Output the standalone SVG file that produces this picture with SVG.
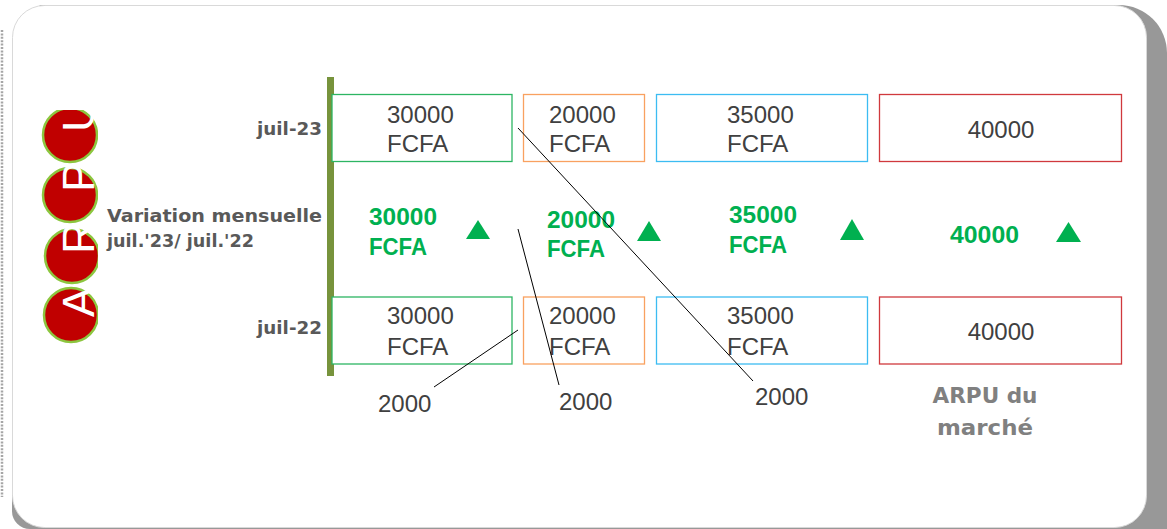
<svg xmlns="http://www.w3.org/2000/svg" width="1167" height="529" viewBox="0 0 1167 529">
<style>
.box{fill:#ffffff;stroke-width:1.3}
.g{stroke:#2db563}
.o{stroke:#f9a160}
.b{stroke:#3cbcf2}
.r{stroke:#d0393d}
.val{font-family:"Liberation Sans",Arial,sans-serif;font-size:24px;fill:#404040}
.var{font-family:"Liberation Sans",Arial,sans-serif;font-size:23px;font-weight:bold;fill:#00b050}
.lab{font-family:"DejaVu Sans","Liberation Sans",sans-serif;font-size:17px;font-weight:bold;fill:#595959}
.mk{font-family:"DejaVu Sans","Liberation Sans",sans-serif;font-size:21px;font-weight:bold;fill:#808080}
.tri{fill:#00b050}
.circ{fill:#c00000;stroke:#8cc63f;stroke-width:2.5}
.let{font-family:"Liberation Sans",Arial,sans-serif;font-weight:normal;font-size:45px;fill:#ffffff}
.conn{stroke:#000000;stroke-width:1;fill:none}
</style>
<defs>
<clipPath id="arpuClip"><rect x="35" y="110" width="63" height="240"/></clipPath>
</defs>

<g id="panel">
<line x1="2" y1="30" x2="2" y2="497" stroke="#a6a6a6" stroke-width="2.5" stroke-dasharray="2 1.4"/>
<path d="M40,5 H1119 A48,48 0 0 1 1167,53 V529 H30 A18,18 0 0 1 12,511 V40 Z" fill="#989898"/>
<rect x="12.5" y="5.5" width="1134" height="522" rx="32" ry="32" fill="#ffffff" stroke="#d9d9d9" stroke-width="1"/>
</g>

<g id="arpu-title" clip-path="url(#arpuClip)">
<g id="letter-U"><circle class="circ" cx="70" cy="135" r="27"/><text class="let" transform="translate(94,132) rotate(-90)">U</text></g>
<g id="letter-P"><circle class="circ" cx="70" cy="195" r="27"/><text class="let" transform="translate(94,192) rotate(-90)">P</text></g>
<g id="letter-R"><circle class="circ" cx="72" cy="256" r="27"/><text class="let" transform="translate(94,254) rotate(-90)">R</text></g>
<g id="letter-A"><circle class="circ" cx="71" cy="315" r="27"/><text class="let" transform="translate(94,317) rotate(-90)">A</text></g>
</g>

<g id="axis">
<rect x="327" y="77" width="7" height="299" fill="#77933c"/>
</g>

<g id="row-labels">
<text class="lab" x="322" y="135" text-anchor="end" textLength="65" lengthAdjust="spacingAndGlyphs">juil-23</text>
<text class="lab" x="322" y="334" text-anchor="end" textLength="65" lengthAdjust="spacingAndGlyphs">juil-22</text>
<text class="lab" x="107" y="222" textLength="215" lengthAdjust="spacingAndGlyphs">Variation mensuelle</text>
<text class="lab" x="107" y="247" textLength="147" lengthAdjust="spacingAndGlyphs">juil.'23/ juil.'22</text>
</g>

<g id="top-1"><rect class="box g" x="332" y="94.5" width="180" height="67"/><text class="val" x="387" y="123">30000</text><text class="val" x="387" y="152">FCFA</text></g>
<g id="top-2"><rect class="box o" x="523.5" y="94.5" width="121" height="67"/><text class="val" x="549" y="123">20000</text><text class="val" x="549" y="152">FCFA</text></g>
<g id="top-3"><rect class="box b" x="656.5" y="94.5" width="211" height="67"/><text class="val" x="727" y="123">35000</text><text class="val" x="727" y="152">FCFA</text></g>
<g id="top-4"><rect class="box r" x="879.5" y="94.5" width="242" height="67"/><text class="val" x="1001" y="138" text-anchor="middle">40000</text></g>

<g id="var-1"><text class="var" x="369" y="225" textLength="68" lengthAdjust="spacingAndGlyphs">30000</text><text class="var" x="369" y="255" textLength="58" lengthAdjust="spacingAndGlyphs">FCFA</text><polygon class="tri" points="466,239 490,239 478,220"/></g>
<g id="var-2"><text class="var" x="547" y="228" textLength="68" lengthAdjust="spacingAndGlyphs">20000</text><text class="var" x="547" y="257" textLength="58" lengthAdjust="spacingAndGlyphs">FCFA</text><polygon class="tri" points="637,241 661,241 649,221"/></g>
<g id="var-3"><text class="var" x="729" y="223" textLength="68" lengthAdjust="spacingAndGlyphs">35000</text><text class="var" x="729" y="253" textLength="58" lengthAdjust="spacingAndGlyphs">FCFA</text><polygon class="tri" points="840,240 864,240 852,219"/></g>
<g id="var-4"><text class="var" x="950" y="243" textLength="69" lengthAdjust="spacingAndGlyphs">40000</text><polygon class="tri" points="1056,242 1081,242 1068.5,222"/></g>

<g id="bot-1"><rect class="box g" x="332" y="297" width="180" height="67"/><text class="val" x="387" y="324">30000</text><text class="val" x="387" y="355">FCFA</text></g>
<g id="bot-2"><rect class="box o" x="523.5" y="297" width="121" height="67"/><text class="val" x="549" y="324">20000</text><text class="val" x="549" y="355">FCFA</text></g>
<g id="bot-3"><rect class="box b" x="656.5" y="297" width="211" height="67"/><text class="val" x="727" y="324">35000</text><text class="val" x="727" y="355">FCFA</text></g>
<g id="bot-4"><rect class="box r" x="879.5" y="297" width="242" height="67"/><text class="val" x="1001" y="340" text-anchor="middle">40000</text></g>

<g id="market-label">
<text class="mk" x="985" y="403" text-anchor="middle" textLength="105" lengthAdjust="spacingAndGlyphs">ARPU du</text>
<text class="mk" x="985" y="435" text-anchor="middle" textLength="96" lengthAdjust="spacingAndGlyphs">marché</text>
</g>

<g id="callout-1"><text class="val" x="378" y="412">2000</text></g>
<g id="callout-2"><text class="val" x="559" y="410">2000</text></g>
<g id="callout-3"><text class="val" x="755" y="405">2000</text></g>

<g id="connectors">
<line class="conn" x1="518" y1="330" x2="434" y2="387"/>
<line class="conn" x1="518" y1="229" x2="559" y2="385"/>
<line class="conn" x1="518" y1="128" x2="753" y2="381"/>
</g>
</svg>
